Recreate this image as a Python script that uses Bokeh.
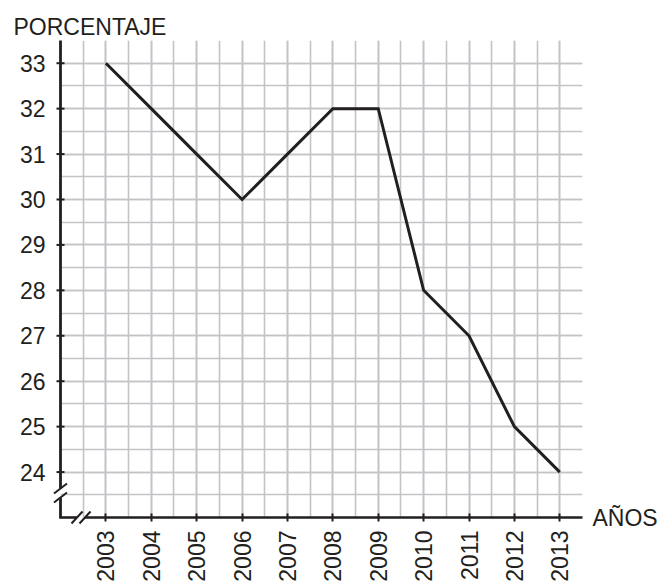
import math
from bokeh.plotting import figure
from bokeh.models import FixedTicker, Range1d, Title, LinearAxis
from bokeh.embed import file_html
from bokeh.resources import INLINE

# ---- data ----
years = [2003, 2004, 2005, 2006, 2007, 2008, 2009, 2010, 2011, 2012, 2013]
percent = [33, 32, 31, 30, 31, 32, 32, 28, 27, 25, 24]
y_ticks = [24, 25, 26, 27, 28, 29, 30, 31, 32, 33]
y_label = "PORCENTAJE"
x_label = "AÑOS"

X_MIN, X_MAX = 2002, 2013.5
Y_MIN, Y_MAX = 23, 33.5

FONT = "Liberation Sans"
INK = "#231f20"
GRID = "#c3c3c8"
FS = "23px"

GRID_W, GRID_H = 522, 477   # pixel size of the gridded area
PAD_L = 8                   # room left of the y axis for the break marks
LEFT = 60                   # left edge of the gridded area on the canvas

px = (X_MAX - X_MIN) / GRID_W   # data units per pixel (x)
py = (Y_MAX - Y_MIN) / GRID_H   # data units per pixel (y)

p = figure(
    width=658, height=582,
    frame_width=GRID_W + PAD_L, frame_height=GRID_H,
    x_range=Range1d(X_MIN - PAD_L * px, X_MAX), y_range=Range1d(Y_MIN, Y_MAX),
    output_backend="svg", toolbar_location=None, title=None,
    min_border_left=LEFT - PAD_L, min_border_top=40, min_border_right=76, min_border_bottom=65,
)
p.outline_line_color = None
p.background_fill_color = "white"

half_x = [X_MIN + 0.5 * i for i in range(1, int((X_MAX - X_MIN) * 2) + 1)]
half_y = [Y_MIN + 0.5 * i for i in range(1, int((Y_MAX - Y_MIN) * 2) + 1)]

p.xaxis.ticker = FixedTicker(ticks=years, minor_ticks=half_x)
p.yaxis.ticker = FixedTicker(ticks=y_ticks, minor_ticks=half_y)

for g in (p.xgrid, p.ygrid):
    g.grid_line_color = GRID
    g.grid_line_width = 1.6
    g.minor_grid_line_color = GRID
    g.minor_grid_line_width = 1.6
p.ygrid.cross_bounds = (X_MIN, X_MAX)

for ax in (p.xaxis, p.yaxis):
    ax.axis_line_color = None
    ax.major_tick_line_color = INK
    ax.major_tick_line_width = 2
    ax.major_tick_in = 4
    ax.major_tick_out = 4
    ax.minor_tick_line_color = None
    ax.major_label_text_font = FONT
    ax.major_label_text_font_size = FS
    ax.major_label_text_color = INK

p.xaxis.major_label_orientation = math.pi / 2
p.xaxis.major_label_standoff = 9

# y axis: labels only (it sits on the frame edge, PAD_L left of the drawn axis line)
p.yaxis.major_tick_line_color = None
p.yaxis.major_tick_in = 0
p.yaxis.major_tick_out = 0
p.yaxis.major_label_standoff = 3

# ---- axis lines, y ticks and break marks ----
yb1, yb2 = Y_MIN + 20 * py, Y_MIN + 29 * py      # y-axis break
xb1, xb2 = X_MIN + 16.5 * px, X_MIN + 24.5 * px  # x-axis break

# y axis line, upper and lower part
p.line([X_MIN, X_MIN], [yb2, Y_MAX], line_color=INK, line_width=2.8, level="overlay")
p.line([X_MIN, X_MIN], [Y_MIN, yb1], line_color=INK, line_width=2.8, level="overlay")
# x axis line with its gap
p.segment(x0=[X_MIN - 1.3 * px, xb2], y0=[Y_MIN, Y_MIN], x1=[xb1, X_MAX], y1=[Y_MIN, Y_MIN],
          line_color=INK, line_width=2.6, level="overlay")
# y ticks crossing the axis line
p.segment(x0=[X_MIN - 4 * px] * len(y_ticks), y0=y_ticks,
          x1=[X_MIN + 4 * px] * len(y_ticks), y1=y_ticks,
          line_color=INK, line_width=2, level="overlay")
# break marks
p.segment(x0=[X_MIN - 6.5 * px] * 2, y0=[yb1 - 5 * py, yb2 - 5 * py],
          x1=[X_MIN + 6.5 * px] * 2, y1=[yb1 + 5 * py, yb2 + 5 * py],
          line_color=INK, line_width=2, level="overlay")
p.segment(x0=[xb1 - 5.5 * px, xb2 - 5.5 * px], y0=[Y_MIN - 6 * py] * 2,
          x1=[xb1 + 5.5 * px, xb2 + 5.5 * px], y1=[Y_MIN + 6 * py] * 2,
          line_color=INK, line_width=2, level="overlay")

# ---- data line ----
p.line(years, percent, line_color=INK, line_width=3, line_join="miter")

# ---- axis titles ----
p.add_layout(Title(text=y_label, align="left", offset=13 - (LEFT - PAD_L), standoff=2,
                   text_font=FONT, text_font_size=FS, text_font_style="normal",
                   text_color=INK), "above")

xname_axis = LinearAxis(ticker=FixedTicker(ticks=[Y_MIN], minor_ticks=[]),
                        major_label_overrides={Y_MIN: x_label})
xname_axis.axis_line_color = None
xname_axis.major_tick_line_color = None
xname_axis.minor_tick_line_color = None
xname_axis.major_tick_in = 0
xname_axis.major_tick_out = 0
xname_axis.major_label_standoff = 10
xname_axis.major_label_text_font = FONT
xname_axis.major_label_text_font_size = FS
xname_axis.major_label_text_color = INK
p.add_layout(xname_axis, "right")

open("out.html", "w").write(file_html(p, INLINE))
